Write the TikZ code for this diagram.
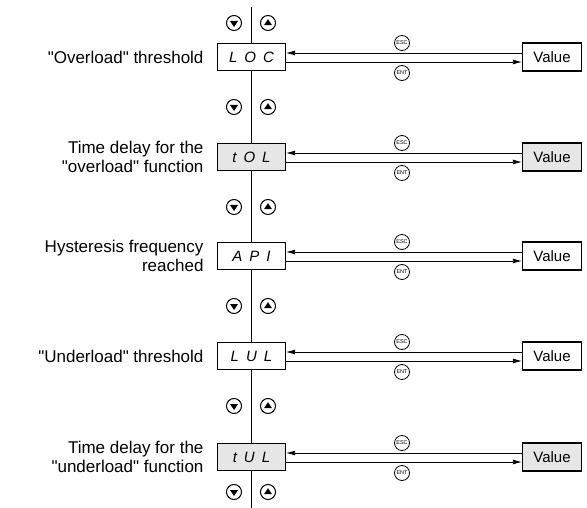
\documentclass[tikz,border=0pt]{standalone}
\usepackage{fontspec}
\setmainfont{Liberation Sans}[Ligatures=TeXOff]
\usetikzlibrary{positioning, arrows.meta}
\definecolor{panelGrey}{RGB}{230,230,230}
\newcommand{\segcode}[3]{#1\hspace{7pt}#2\hspace{7pt}#3}

\tikzset{
  codebox/.style={draw, line width=1.2pt, minimum width=68pt, minimum height=27pt, inner sep=0pt,
    font=\itshape\fontsize{15}{15}\selectfont},
  valbox/.style={draw, line width=1.2pt, minimum width=59pt, minimum height=28pt, inner sep=0pt,
    font=\fontsize{15}{18}\selectfont},
  keybtn/.style={draw, circle, line width=1pt, minimum size=15pt, inner sep=0pt},
  keytxt/.style={keybtn, line width=0.8pt, font=\fontsize{5.5}{5.5}\selectfont},
  menutext/.style={anchor=east, align=right, font=\fontsize{17}{19.5}\selectfont},
  link/.style={line width=0.8pt, -{Latex[length=9pt,width=5pt]}}
}

\begin{document}
\begin{tikzpicture}[x=1pt, y=-1pt]
  \useasboundingbox (0,0) rectangle (587,508);

  % menu spine
  \coordinate (spineTop) at (251,7);
  \coordinate (spineBot) at (251,508);
  \draw[line width=0.8pt] (spineTop) -- (spineBot);

  % scroll keys
  \foreach \y in {23,107,207,306,406,492} {
    \node[keybtn, fill=white] (dn\y) at (234,\y) {};
    \node[keybtn, fill=white] (up\y) at (268,\y) {};
    \fill ([shift={(-4pt,2pt)}]dn\y.center) -- ++(8pt,0) -- ++(-4pt,-6pt) -- cycle;
    \fill ([shift={(-4pt,-2.2pt)}]up\y.center) -- ++(8pt,0) -- ++(-4pt,6pt) -- cycle;
  }

  % parameters
  \foreach \n/\y/\a/\b/\c/\shade in {1/57/L/O/C/white, 2/157/t/O/L/panelGrey, 3/256/A/P/I/white,
      4/356/L/U/L/white, 5/457/t/U/L/panelGrey} {
    \node[codebox, fill=\shade] (code\n) at (251.5,\y) {\segcode{\a}{\b}{\c}};
    \node[valbox, fill=\shade] (val\n) at (552,\y) {Value};
    \draw[link] ([yshift=4pt]val\n.west) -- ([yshift=4pt]code\n.east);
    \draw[link] ([yshift=-5pt]code\n.east) -- ([yshift=-5pt]val\n.west);
    \node[keytxt] (esc\n) at (402,\y-14) {ESC};
    \node[keytxt] (ent\n) at (402,\y+16) {ENT};
  }

  \node[menutext] (txt1) at (207,57) {"Overload" threshold};
  \node[menutext] (txt2) at (207,157) {Time delay for the\\"overload" function};
  \node[menutext] (txt3) at (207,256) {Hysteresis frequency\\reached};
  \node[menutext] (txt4) at (207,356) {"Underload" threshold};
  \node[menutext] (txt5) at (207,457) {Time delay for the\\"underload" function};
\end{tikzpicture}
\end{document}
